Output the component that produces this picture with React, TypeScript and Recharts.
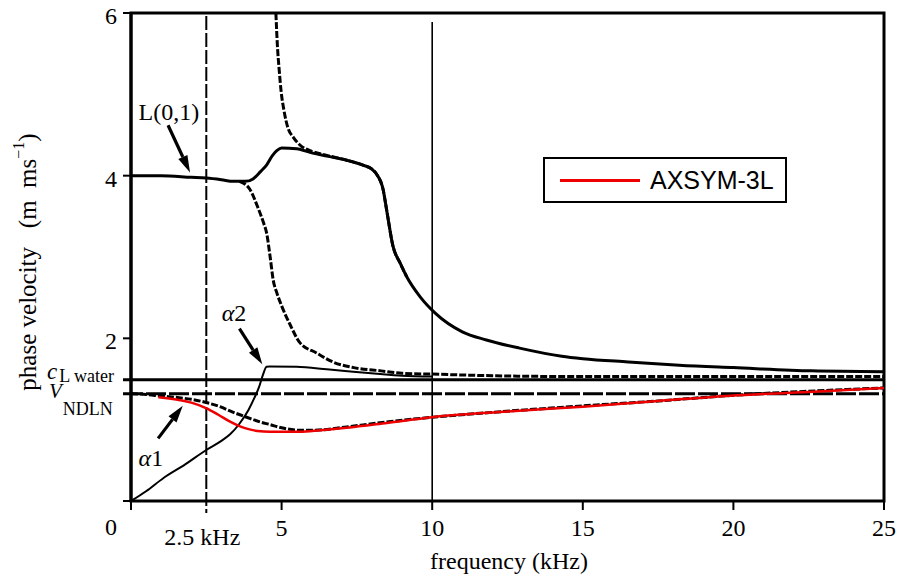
import React from "react";
import {
  Legend,
  Line,
  LineChart,
  ReferenceArea,
  ReferenceDot,
  ReferenceLine,
  XAxis,
  YAxis,
} from "recharts";

// [frequency kHz, phase velocity m/ms]
const L01_SOLID = [
  [0, 4.0], [1, 4.0], [2, 3.98], [2.5, 3.97], [3, 3.95], [3.4, 3.93], [3.8, 3.93],
  [4.05, 3.96], [4.3, 4.05], [4.5, 4.13], [4.7, 4.25], [4.85, 4.31], [5.0, 4.34],
  [5.5, 4.33], [6.0, 4.28], [6.5, 4.24], [7.16, 4.19], [7.7, 4.13], [8.0, 4.08],
  [8.15, 4.02], [8.37, 3.83], [8.5, 3.55], [8.7, 3.13], [8.93, 2.93], [9.15, 2.76],
  [9.6, 2.51], [10.1, 2.31], [11, 2.08], [11.8, 1.98], [12.9, 1.88], [14.3, 1.78],
  [15, 1.75], [16.5, 1.71], [18.2, 1.67], [20, 1.64], [22.6, 1.6], [25, 1.59],
];
const UPPER_DASHED = [
  [4.81, 6.0], [4.86, 5.6], [4.92, 5.3], [4.98, 5.05], [5.08, 4.8], [5.2, 4.6],
  [5.39, 4.47], [5.6, 4.38], [6.0, 4.3], [6.5, 4.25], [7.16, 4.19], [7.7, 4.13],
  [8.0, 4.08], [8.15, 4.02], [8.37, 3.83], [8.5, 3.55], [8.7, 3.13], [8.93, 2.93],
  [9.15, 2.76],
];
const LOWER_DASHED = [
  [3.6, 3.93], [3.95, 3.83], [4.2, 3.62], [4.4, 3.42], [4.5, 3.3], [4.62, 3.0],
  [4.72, 2.72], [4.85, 2.55], [5.0, 2.4], [5.28, 2.17], [5.6, 1.95], [6.16, 1.82],
  [6.7, 1.71], [7.4, 1.64], [8.3, 1.6], [9, 1.57], [10, 1.56], [12, 1.54],
  [15, 1.53], [20, 1.53], [25, 1.53],
];
const ALPHA2 = [
  [0, 0], [0.5, 0.12], [1.07, 0.28], [1.8, 0.45], [2.51, 0.63], [3.0, 0.74],
  [3.29, 0.82], [3.6, 0.95], [3.9, 1.12], [4.1, 1.27], [4.25, 1.4], [4.38, 1.55],
  [4.5, 1.65], [4.6, 1.655], [5.5, 1.65], [6.5, 1.62], [7.38, 1.59], [8.27, 1.56],
  [9.0, 1.54], [10, 1.53],
];
const ALPHA1_DASHED = [
  [0, 1.32], [0.5, 1.31], [1.0, 1.29], [1.6, 1.27], [2.0, 1.25], [2.4, 1.22],
  [2.95, 1.16], [3.4, 1.09], [3.84, 1.03], [4.3, 0.97], [4.61, 0.94], [5.0, 0.9],
  [5.6, 0.87], [6.0, 0.87], [7.16, 0.91], [8, 0.95], [10, 1.03], [12, 1.09],
  [15, 1.17], [17.5, 1.23], [20, 1.3], [22.5, 1.35], [25, 1.39],
];
const AXSYM_3L = [
  [0.91, 1.275], [1.63, 1.24], [2.0, 1.21], [2.51, 1.14], [2.9, 1.06], [3.29, 0.975],
  [3.6, 0.92], [3.84, 0.89], [4.2, 0.86], [4.61, 0.85], [5.6, 0.85], [6.3, 0.87],
  [7.16, 0.9], [8.5, 0.96], [10, 1.03], [12.5, 1.1], [15, 1.16], [17.5, 1.23],
  [19.9, 1.295], [22.5, 1.34], [25, 1.39],
];

const X_TICKS = [0, 5, 10, 15, 20, 25];
const Y_TICKS = [0, 2, 4, 6];
const C_L_WATER = 1.49;
const V_NDLN = 1.32;
const MARK_FREQS = [2.5, 10];

// annotation arrows: [fromF, fromV, toF, toV]
const ARROWS = [
  [1.23, 4.62, 1.96, 4.04],
  [3.6, 2.12, 4.36, 1.68],
  [0.9, 0.77, 1.72, 1.17],
];
const TAGS = [
  { f: 1.26, v: 4.78, text: "L(0,1)", greek: false },
  { f: 3.42, v: 2.31, text: "2", greek: true },
  { f: 0.66, v: 0.53, text: "1", greek: true },
];

const RED = "#ee0000";
const SERIF = '"Liberation Serif", "Times New Roman", serif';
const SANS = '"Liberation Sans", Arial, sans-serif';

const pts = (rows: number[][]) => rows.map(([f, v]) => ({ f, v }));

const XTick = (props: any) => {
  const { x, y, payload } = props;
  if (payload.value === 0) return null;
  return (
    <text x={x} y={y + 24} textAnchor="middle" fontFamily={SERIF} fontSize={24} fill="#000">
      {payload.value}
    </text>
  );
};

const YTick = (props: any) => {
  const { x, y, payload } = props;
  const dy = payload.value === 0 ? 34 : 11;
  return (
    <text x={x - 4} y={y + dy} textAnchor="end" fontFamily={SERIF} fontSize={24} fill="#000">
      {payload.value}
    </text>
  );
};

const arrowShape = (p: any) => {
  const { x1, y1, x2, y2 } = p;
  const ang = Math.atan2(y2 - y1, x2 - x1);
  const len = 17;
  const w = 5;
  const bx = x2 - len * Math.cos(ang);
  const by = y2 - len * Math.sin(ang);
  const nx = -Math.sin(ang) * w;
  const ny = Math.cos(ang) * w;
  return (
    <g>
      <line x1={x1} y1={y1} x2={bx} y2={by} stroke="#000" strokeWidth={3.2} />
      <polygon points={`${x2},${y2} ${bx + nx},${by + ny} ${bx - nx},${by - ny}`} fill="#000" />
    </g>
  );
};

const tagShape = (tag: any) => (p: any) => (
  <text
    x={p.cx}
    y={p.cy + 8}
    textAnchor="middle"
    fontFamily={SERIF}
    fontSize={24}
    fill="#000"
  >
    {tag.greek ? (
      <>
        <tspan fontStyle="italic">α</tspan>
        <tspan>{tag.text}</tspan>
      </>
    ) : (
      tag.text
    )}
  </text>
);

const waterShape = (p: any) => {
  const y = p.y1;
  return (
    <g>
      <line x1={p.x1 - 8} y1={y} x2={Math.max(p.x1, p.x2)} y2={y} stroke="#000" strokeWidth={3} />
      <text x={47} y={y - 1} fontFamily={SERIF} fontSize={23} fill="#000">
        <tspan fontStyle="italic">c</tspan>
        <tspan fontSize={18} dy={3} dx={2}>L water</tspan>
      </text>
    </g>
  );
};

const ndlnShape = (p: any) => {
  const y = p.y1;
  return (
    <g>
      <line
        x1={p.x1 - 8}
        y1={y}
        x2={Math.max(p.x1, p.x2)}
        y2={y}
        stroke="#000"
        strokeWidth={3}
        strokeDasharray="20 3"
      />
      <text x={49} y={y + 4} fontFamily={SERIF} fontSize={21} fill="#000">
        <tspan fontStyle="italic">V</tspan>
        <tspan fontSize={18} dy={17} dx={1}>NDLN</tspan>
      </text>
    </g>
  );
};

const markShape = (f: number) => (p: any) => {
  const top = Math.min(p.y1, p.y2);
  const bottom = Math.max(p.y1, p.y2);
  if (f === 2.5) {
    return (
      <g>
        <line x1={p.x1} y1={top + 3} x2={p.x1} y2={bottom + 12} stroke="#000" strokeWidth={2} strokeDasharray="14 3" />
        <text x={p.x1 - 4} y={bottom + 44} textAnchor="middle" fontFamily={SERIF} fontSize={24} fill="#000">
          2.5 kHz
        </text>
      </g>
    );
  }
  return <line x1={p.x1} y1={top + 9} x2={p.x1} y2={bottom} stroke="#000" strokeWidth={1.6} />;
};

const renderLegend = (props: any) => {
  const item = (props.payload || []).find((e: any) => e.value === "AXSYM-3L");
  if (!item) return null;
  return (
    <div
      style={{
        width: 244,
        height: 46,
        boxSizing: "border-box",
        border: "2px solid #000",
        background: "#fff",
        display: "flex",
        alignItems: "center",
        fontFamily: SANS,
        fontSize: 25,
        color: "#000",
      }}
    >
      <span style={{ display: "inline-block", width: 80, height: 3, background: item.color, marginLeft: 15, marginRight: 10 }} />
      <span>{item.value}</span>
    </div>
  );
};

const yTitle = () => {
  const cx = 27;
  const cy = 262;
  return (
    <text
      x={cx}
      y={cy}
      transform={`rotate(-90, ${cx}, ${cy})`}
      textAnchor="middle"
      dominantBaseline="central"
      fontFamily={SERIF}
      fontSize={25}
      fill="#000"
    >
      phase velocity{"\u00a0\u00a0\u00a0"}(m{"\u00a0\u00a0"}ms
      <tspan fontSize={16} dy={-9}>−1</tspan>
      <tspan dy={9}>)</tspan>
    </text>
  );
};

const xTitle = () => (
  <text x={509} y={569} textAnchor="middle" fontFamily={SERIF} fontSize={24} fill="#000">
    frequency (kHz)
  </text>
);

export default function App() {
  return (
    <div style={{ position: "absolute", left: 0, top: 0, background: "#fff" }}>
      <LineChart width={897} height={577} margin={{ top: 13, right: 13, bottom: 0, left: 0 }}>
        <XAxis
          dataKey="f"
          type="number"
          domain={[0, 25]}
          ticks={X_TICKS}
          allowDataOverflow
          height={76}
          tick={XTick}
          tickSize={9}
          axisLine={{ stroke: "#000", strokeWidth: 2 }}
          tickLine={{ stroke: "#000", strokeWidth: 2 }}
          label={{ content: xTitle }}
        />
        <YAxis
          type="number"
          domain={[0, 6]}
          ticks={Y_TICKS}
          allowDataOverflow
          width={131}
          tick={YTick}
          tickSize={8}
          axisLine={{ stroke: "#000", strokeWidth: 3 }}
          tickLine={{ stroke: "#000", strokeWidth: 2 }}
          label={{ content: yTitle }}
        />
        <ReferenceArea x1={0} x2={25} y1={0} y2={6} fill="none" stroke="#000" strokeWidth={3} fillOpacity={0} />
        {MARK_FREQS.map((f) => (
          <ReferenceLine key={f} x={f} shape={markShape(f)} />
        ))}
        <ReferenceLine y={C_L_WATER} shape={waterShape} />
        <ReferenceLine y={V_NDLN} shape={ndlnShape} />

        <Line data={pts(L01_SOLID)} dataKey="v" type="monotone" stroke="#000" strokeWidth={3} dot={false} legendType="none" isAnimationActive={false} />
        <Line data={pts(UPPER_DASHED)} dataKey="v" type="monotone" stroke="#000" strokeWidth={3} strokeDasharray="7 2" dot={false} legendType="none" isAnimationActive={false} />
        <Line data={pts(LOWER_DASHED)} dataKey="v" type="monotone" stroke="#000" strokeWidth={3} strokeDasharray="7 2" dot={false} legendType="none" isAnimationActive={false} />
        <Line data={pts(ALPHA2)} dataKey="v" type="monotone" stroke="#000" strokeWidth={2} dot={false} legendType="none" isAnimationActive={false} />
        <Line data={pts(ALPHA1_DASHED)} dataKey="v" type="monotone" stroke="#000" strokeWidth={3} strokeDasharray="7 2" dot={false} legendType="none" isAnimationActive={false} />
        <Line data={pts(AXSYM_3L)} dataKey="v" name="AXSYM-3L" type="monotone" stroke={RED} strokeWidth={2.5} dot={false} isAnimationActive={false} />

        {ARROWS.map(([f1, v1, f2, v2], i) => (
          <ReferenceLine key={"a" + i} segment={[{ x: f1, y: v1 }, { x: f2, y: v2 }]} shape={arrowShape} />
        ))}
        {TAGS.map((t, i) => (
          <ReferenceDot key={"t" + i} x={t.f} y={t.v} r={0} shape={tagShape(t)} ifOverflow="visible" />
        ))}

        <Legend
          layout="vertical"
          align="center"
          verticalAlign="middle"
          content={renderLegend}
          wrapperStyle={{ left: 543, top: 157, width: 244 }}
        />
      </LineChart>
    </div>
  );
}
